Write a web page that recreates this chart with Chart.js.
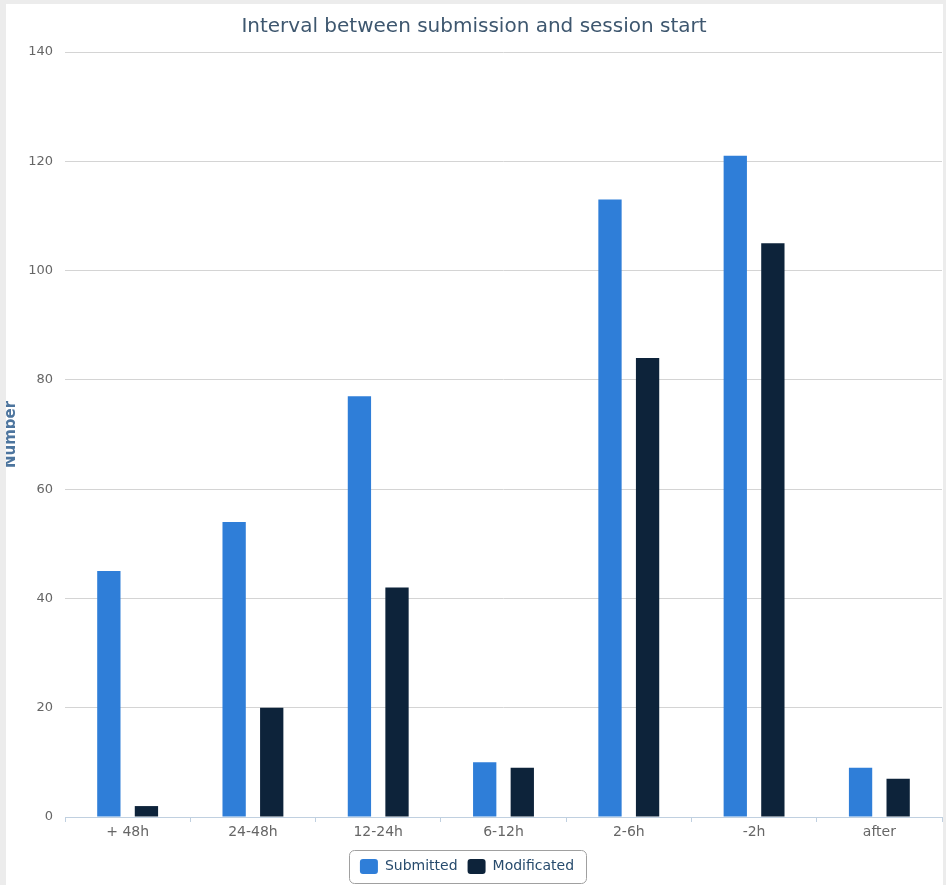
<!DOCTYPE html>
<html>
<head>
<meta charset="utf-8">
<script src="https://cdn.jsdelivr.net/npm/chart.js@4/dist/chart.umd.min.js"></script>
<style>
  html, body { margin: 0; padding: 0; background: #ececec; }
  #wrap { position: absolute; left: 6px; top: 4px; width: 937px; height: 881px; background: #ffffff; }
  canvas { display: block; }
</style>
</head>
<body>
<div id="wrap"><canvas id="c" width="937" height="881"></canvas></div>
<script>
const categories = ["+ 48h", "24-48h", "12-24h", "6-12h", "2-6h", "-2h", "after"];
const submitted = [45, 54, 77, 10, 113, 121, 9];
const modificated = [2, 20, 42, 9, 84, 105, 7];
const yTicks = [0, 20, 40, 60, 80, 100, 120, 140];

const FONT = "'DejaVu Sans', Verdana, sans-serif";

const legendBorder = {
  id: 'legendBorder',
  afterLayout(chart) {
    const lg = chart.legend;
    if (lg) { lg.left -= 7; lg.right -= 7; }
  },
  afterDraw(chart) {
    const lg = chart.legend;
    if (!lg || !lg.legendHitBoxes || !lg.legendHitBoxes.length) return;
    const hb = lg.legendHitBoxes;
    let l = Infinity, r = -Infinity, t = Infinity, b = -Infinity;
    hb.forEach(h => { l = Math.min(l, h.left); r = Math.max(r, h.left + h.width); t = Math.min(t, h.top); b = Math.max(b, h.top + h.height); });
    const ctx = chart.ctx;
    const x = l - 11, y = t - 9, w = (r - l) + 23, h = (b - t) + 18;
    ctx.save();
    ctx.strokeStyle = '#a0a0a0';
    ctx.lineWidth = 1;
    ctx.beginPath();
    ctx.roundRect(Math.round(x) + 0.5, Math.round(y) + 0.5, Math.round(w), Math.round(h), 5);
    ctx.stroke();
    ctx.restore();
  }
};

new Chart(document.getElementById('c'), {
  type: 'bar',
  data: {
    labels: categories,
    datasets: [
      { label: 'Submitted', data: submitted, backgroundColor: '#2f7ed8', categoryPercentage: 0.6, barPercentage: 0.62 },
      { label: 'Modificated', data: modificated, backgroundColor: '#0d233a', categoryPercentage: 0.6, barPercentage: 0.62 }
    ]
  },
  plugins: [legendBorder],
  options: {
    responsive: false,
    animation: false,
    layout: { padding: { left: 0, right: 1, top: 0, bottom: 1 } },
    plugins: {
      title: {
        display: true,
        text: 'Interval between submission and session start',
        color: '#3e576f',
        font: { family: FONT, size: 20, weight: 'normal' },
        padding: { top: 11, bottom: 13 }
      },
      legend: {
        position: 'bottom',
        labels: {
          color: '#274b6d',
          font: { family: FONT, size: 14 },
          boxWidth: 18,
          boxHeight: 15,
          useBorderRadius: true,
          borderRadius: 3,
          padding: 10
        }
      },
      tooltip: { enabled: false }
    },
    scales: {
      x: {
        grid: { display: true, drawOnChartArea: false, drawTicks: true, tickLength: 5, color: '#c0d0e0', offset: true },
        border: { display: true, color: '#c0d0e0', width: 1 },
        ticks: { color: '#666666', font: { family: FONT, size: 14 }, padding: 2, maxRotation: 0 },
        afterFit(s) { s.height = 32; }
      },
      y: {
        min: 0, max: 140,
        afterBuildTicks(s) { s.ticks = yTicks.map(v => ({ value: v })); },
        grid: { color: '#d4d4d4', drawTicks: false },
        border: { display: false },
        ticks: { color: '#666666', font: { family: FONT, size: 13 }, padding: 12 },
        title: { display: true, text: 'Number', color: '#4d759e', font: { family: FONT, size: 15, weight: 'bold' }, padding: { top: -4, bottom: 0 } },
        afterFit(s) { s.width = 59; }
      }
    }
  }
});
</script>
</body>
</html>
